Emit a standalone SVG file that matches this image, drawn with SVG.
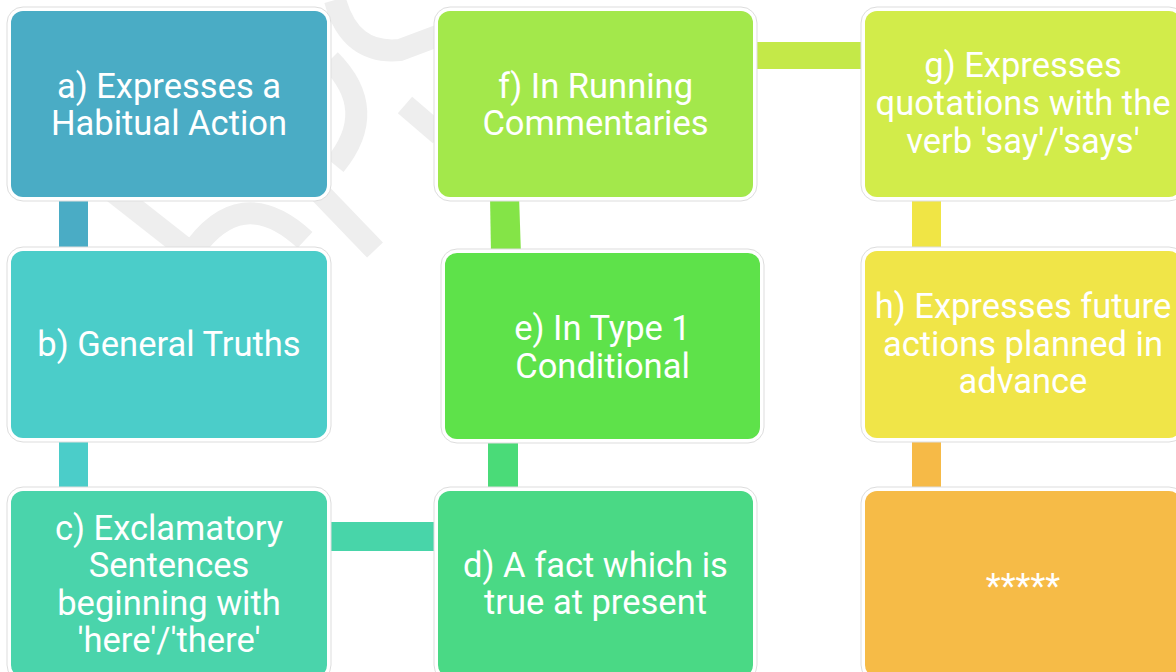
<svg xmlns="http://www.w3.org/2000/svg" width="1176" height="672" viewBox="0 0 1176 672">
<style>
.wm{fill:none;stroke:#eeeeee;stroke-width:22;stroke-linecap:butt}
.outer{fill:#ffffff;stroke:#dddddd;stroke-width:1}
.t{font-family:Roboto,"Liberation Sans",sans-serif;font-size:34.5px;fill:#ffffff;text-anchor:middle}
</style>
<rect width="1176" height="672" fill="#ffffff"/>
<g id="watermark">
<path class="wm" d="M60,150 L200,260"/>
<path class="wm" d="M250,120 L375,250"/>
<path class="wm" d="M190,255 Q240,180 305,240"/>
<path class="wm" d="M335,0 Q350,55 400,50 L440,35"/>
<path class="wm" d="M330,60 Q380,110 335,165"/>
<path class="wm" d="M405,105 L440,135"/>
</g>
<g id="connectors">
<rect x="59" y="195" width="29" height="60" fill="#4aacc5"/>
<rect x="59" y="435" width="29" height="60" fill="#4bcdc9"/>
<rect x="325" y="522" width="118" height="29" fill="#48d5a9"/>
<rect x="488" y="435" width="30" height="60" fill="#4adb78"/>
<polygon points="490,195 519,195 521,255 491,255" fill="#84e447"/>
<rect x="750" y="42" width="120" height="27" fill="#c4e948"/>
<rect x="912" y="195" width="29" height="60" fill="#f0e545"/>
<rect x="912" y="435" width="29" height="60" fill="#f6ba47"/>
</g>
<g id="node-a">
<rect class="outer" x="7" y="7" width="324" height="194" rx="16"/>
<rect x="11" y="11" width="316" height="186" rx="12" fill="#4aacc5"/>
<text class="t" x="169" y="98">a) Expresses a</text>
<text class="t" x="169" y="135">Habitual Action</text>
</g>
<g id="node-b">
<rect class="outer" x="7" y="247" width="324" height="195" rx="16"/>
<rect x="11" y="251" width="316" height="187" rx="12" fill="#4bcdc9"/>
<text class="t" x="169" y="356">b) General Truths</text>
</g>
<g id="node-c">
<rect class="outer" x="7" y="487" width="324" height="194" rx="16"/>
<rect x="11" y="491" width="316" height="186" rx="12" fill="#4ad4ab"/>
<text class="t" x="169" y="540">c) Exclamatory</text>
<text class="t" x="169" y="577">Sentences</text>
<text class="t" x="169" y="615">beginning with</text>
<text class="t" x="169" y="652">'here'/'there'</text>
</g>
<g id="node-d">
<rect class="outer" x="434" y="487" width="323" height="194" rx="16"/>
<rect x="438" y="491" width="315" height="186" rx="12" fill="#4ad985"/>
<text class="t" x="595.5" y="577">d) A fact which is</text>
<text class="t" x="595.5" y="614">true at present</text>
</g>
<g id="node-e">
<rect class="outer" x="441" y="249" width="323" height="194" rx="16"/>
<rect x="445" y="253" width="315" height="186" rx="12" fill="#5ee24a"/>
<text class="t" x="602.5" y="340">e) In Type 1</text>
<text class="t" x="602.5" y="378">Conditional</text>
</g>
<g id="node-f">
<rect class="outer" x="434" y="7" width="323" height="194" rx="16"/>
<rect x="438" y="11" width="315" height="186" rx="12" fill="#a3e84b"/>
<text class="t" x="595.5" y="98">f) In Running</text>
<text class="t" x="595.5" y="135">Commentaries</text>
</g>
<g id="node-g">
<rect class="outer" x="861" y="7" width="324" height="194" rx="16"/>
<rect x="865" y="11" width="316" height="186" rx="12" fill="#d2ec4a"/>
<text class="t" x="1023" y="77">g) Expresses</text>
<text class="t" x="1023" y="115">quotations with the</text>
<text class="t" x="1023" y="153">verb 'say'/'says'</text>
</g>
<g id="node-h">
<rect class="outer" x="861" y="247" width="324" height="195" rx="16"/>
<rect x="865" y="251" width="316" height="187" rx="12" fill="#f0e548"/>
<text class="t" x="1023" y="318">h) Expresses future</text>
<text class="t" x="1023" y="356">actions planned in</text>
<text class="t" x="1023" y="393">advance</text>
</g>
<g id="node-i">
<rect class="outer" x="861" y="487" width="324" height="194" rx="16"/>
<rect x="865" y="491" width="316" height="186" rx="12" fill="#f6bb47"/>
<text class="t" x="1023" y="598">*****</text>
</g>
</svg>
